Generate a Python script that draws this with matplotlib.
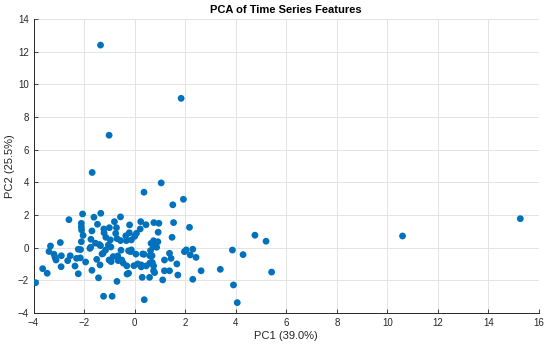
import numpy as np
import matplotlib
matplotlib.use('Agg')
import matplotlib.pyplot as plt

# PCA scores (PC1, PC2)
pc1 = [-1.35, 1.84, -1.01, -1.68, 1.05, 0.37, 1.93, 1.51, 15.26, 10.6,
       4.76, 5.2, 5.42, 3.39, 3.87, 4.29, 3.91, 4.06, 2.63, 2.3,
       1.71, 1.11, 1.18, 1.38, 2.43, 2.2, 2.3, 1.97, 2.04, 1.67,
       1.44, 1.38, 1.18, 2.17, 1.54, 0.76, 0.96, 0.93, 1.48, 0.75,
       0.92, -2.06, -1.34, -2.6, -2.11, -2.11, -2.1, -1.61, -1.47, -0.56,
       -0.8, -0.2, 0.24, -0.72, 0.22, -1.21, -2.04, -0.75, -0.21, 0.07,
       -1.14, -1.73, -0.96, -0.56, -0.33, -0.13, -2.94, -2.11, -1.04, -3.33,
       -1.74, -1.35, -0.94, -0.54, -2.14, -3.39, -3.19, -3.15, -0.24, -0.13,
       0.37, 0.63, 0.87, -3.11, -2.65, -2.91, -2.36, -1.94, -1.5, -1.29,
       -1.01, -0.93, -0.85, -0.67, -1.37, -0.51, -0.31, -0.03, 0.26, 0.46,
       0.7, 0.75, -3.64, -3.46, -2.23, -1.69, -0.3, -0.24, -3.92, -1.43,
       -0.7, 0.3, 0.59, 0.79, -1.23, -0.89, 0.38, -1.22, -1.69, -2.3,
       -2.23, -1.77, -1.55, -1.4, -1.25, -1.15, -0.65, -0.45, -0.16, 0.05,
       0.32, 0.12, 0.26, 0.6, 0.65, 0.75, 0.69, 0.6, 0.67, 0.75,
       -2.55, -2.9, -2.15, -0.7, -1.0, 0.0, -0.35, 0.45]
pc2 = [12.4, 9.14, 6.88, 4.6, 3.96, 3.39, 2.96, 2.62, 1.77, 0.71,
       0.76, 0.39, -1.5, -1.33, -0.15, -0.43, -2.29, -3.37, -1.42, -1.94,
       -1.68, -1.98, -1.42, -1.42, -0.6, -0.45, -0.1, -0.25, -0.14, -1.0,
       -0.66, -0.35, -0.76, 1.24, 1.53, 1.53, 1.49, 0.94, 0.63, 0.42,
       0.36, 2.06, 2.1, 1.71, 1.49, 1.28, 1.08, 1.86, 1.43, 1.88,
       1.59, 1.39, 1.59, 1.22, 1.14, 0.91, 0.75, 0.87, 0.91, 0.87,
       0.63, 0.51, 0.47, 0.43, 0.43, 0.47, 0.31, 0.36, 0.16, 0.1,
       0.02, 0.12, 0.04, -0.16, -0.12, -0.24, -0.41, -0.6, -0.2, -0.14,
       -0.41, -0.18, 0.02, -0.76, -0.8, -1.17, -1.13, -0.88, -0.72, -0.39,
       -0.76, -0.86, -0.55, -0.51, -1.06, -0.76, -1.12, -1.11, -1.06, -1.12,
       -0.92, -1.12, -1.29, -1.57, -1.6, -1.39, -1.62, -1.57, -2.15, -1.85,
       -2.07, -1.82, -1.82, -1.53, -2.98, -2.98, -3.19, 1.14, 1.02, -0.66,
       -0.1, -0.05, 0.27, 0.19, -0.35, -0.15, -0.8, -0.95, -0.25, -0.4,
       -0.39, -1.0, -1.18, -0.95, 0.26, 0.06, -0.5, -0.5, -0.9, -1.42,
       -0.5, -0.5, -0.63, 0.55, 1.22, 0.69, 0.72, 1.4]

xticks = np.arange(-4, 17, 2)
yticks = np.arange(-4, 15, 2)

plt.rcParams['font.family'] = ['Liberation Sans', 'DejaVu Sans']

fig = plt.figure(figsize=(5.5, 3.45), dpi=100)
ax = fig.add_axes([0.061, 0.093, 0.919, 0.852])

ax.scatter(pc1, pc2, s=24, color='#0072BD', edgecolors='none', zorder=3)

ax.set_xlim(-4, 16)
ax.set_ylim(-4, 14)
ax.set_xticks(xticks)
ax.set_yticks(yticks)
ax.grid(True, color='#e3e3e3', linewidth=0.7, zorder=0)
ax.set_axisbelow(True)

for side in ['top', 'right']:
    ax.spines[side].set_visible(False)
for side in ['left', 'bottom']:
    ax.spines[side].set_color('#262626')
    ax.spines[side].set_linewidth(0.7)

ax.tick_params(direction='in', length=3, width=0.6, colors='#262626', labelsize=7)

ax.set_title('PCA of Time Series Features', fontsize=8, fontweight='bold', pad=4)
ax.set_xlabel('PC1 (39.0%)', fontsize=8, labelpad=2, color='#262626')
ax.set_ylabel('PC2 (25.5%)', fontsize=8, labelpad=2, color='#262626')

fig.savefig('out.png', dpi=100)
